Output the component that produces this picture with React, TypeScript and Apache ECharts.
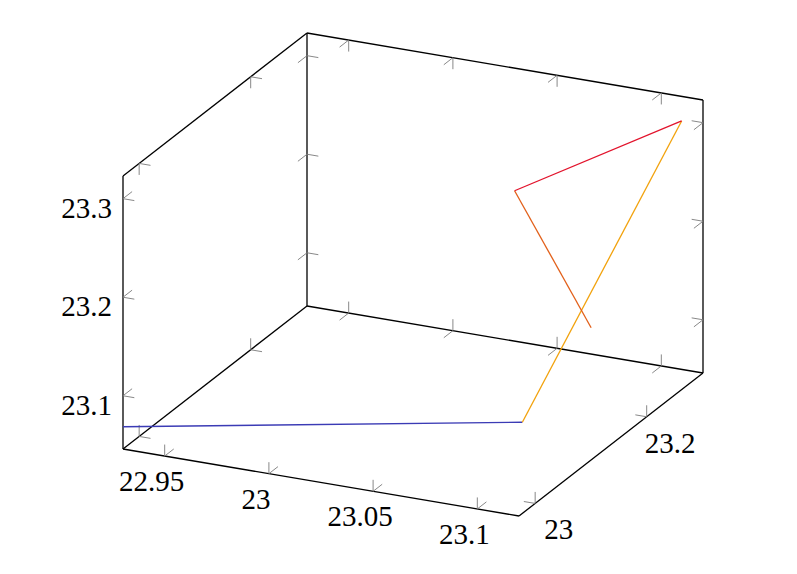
import React, { useEffect, useRef } from "react";
import * as echarts from "echarts";

// ---------- data ----------
const xTicks = [22.95, 23, 23.05, 23.1];
const yTicks = [23, 23.2];
const zTicks = [23.1, 23.2, 23.3];
const xLimits = [22.93, 23.12];
const yLimits = [22.971, 23.301];
const zLimits = [23.046, 23.323];
const xValues = [22.93, 23.12, 23.12, 23.0296, 23.0945];
const yValues = [22.971, 22.977, 23.2627, 23.301, 23.1957];
const zValues = [23.0686, 23.1385, 23.3186, 23.1986, 23.1291];

// ---------- layout & style ----------
const W = 797;
const H = 574;
const ORIGIN = [123, 449];
const EX = [396, 67];
const EY = [184, -143];
const EZ = [0, -273];
const AXES = [EX, EY, EZ];
const LIMITS = [xLimits, yLimits, zLimits];
const TICKS = [xTicks, yTicks, zTicks];
const segmentColors = ["#3b3bb5", "#f2a20c", "#e2132c", "#e2601a"];
const TICK_LEN = 11.5;
const FONT_SIZE = 29;

// edges drawn: [axis, frac of first other axis, frac of second other axis]
const EDGES = [
  [0, 0, 0], [0, 1, 0], [0, 1, 1],
  [1, 1, 0], [1, 0, 0], [1, 0, 1],
  [2, 0, 0], [2, 0, 1], [2, 1, 1],
];
// label edge index per axis and label offsets
const LABEL_EDGE = [0, 3, 6];
const LABEL_OFFSET = [[-13, 25], [23.5, 26], [-11, 9]];
const LABEL_ALIGN = ["center", "center", "right"];

function others(a: number) {
  return a === 0 ? [1, 2] : a === 1 ? [0, 2] : [0, 1];
}
function norm(v: number, lim: number[]) {
  return (v - lim[0]) / (lim[1] - lim[0]);
}
function unitPoint(f: number[]) {
  return [
    ORIGIN[0] + f[0] * EX[0] + f[1] * EY[0] + f[2] * EZ[0],
    ORIGIN[1] + f[0] * EX[1] + f[1] * EY[1] + f[2] * EZ[1],
  ];
}
function project(x: number, y: number, z: number) {
  return unitPoint([norm(x, xLimits), norm(y, yLimits), norm(z, zLimits)]);
}
function edgeFrac(edge: number[], t: number) {
  const f = [0, 0, 0];
  const [b, c] = others(edge[0]);
  f[edge[0]] = t;
  f[b] = edge[1];
  f[c] = edge[2];
  return f;
}

export default function App() {
  const ref = useRef<HTMLDivElement>(null);
  useEffect(() => {
    if (!ref.current) return;
    const chart = echarts.init(ref.current, null, { renderer: "svg" });

    const edgeData = EDGES.map((e, i) => [i, 0]);
    const tickData: number[][] = [];
    EDGES.forEach((e, i) => {
      TICKS[e[0]].forEach((v) => tickData.push([i, norm(v, LIMITS[e[0]])]));
    });
    const labelData: number[][] = [];
    TICKS.forEach((ticks, a) => ticks.forEach((v) => labelData.push([a, v])));
    const segData = xValues.slice(0, -1).map((_, i) => [i, 0]);

    const option: any = {
      animation: false,
      backgroundColor: "#fff",
      grid: { left: 0, top: 0, right: 0, bottom: 0 },
      xAxis: { type: "value", min: 0, max: W, show: false },
      yAxis: { type: "value", min: 0, max: H, inverse: true, show: false },
      series: [
        {
          type: "custom",
          name: "box",
          data: edgeData,
          renderItem: (params: any, api: any) => {
            const e = EDGES[api.value(0)];
            const p1 = api.coord(unitPoint(edgeFrac(e, 0)));
            const p2 = api.coord(unitPoint(edgeFrac(e, 1)));
            return {
              type: "line",
              shape: { x1: p1[0], y1: p1[1], x2: p2[0], y2: p2[1] },
              style: { stroke: "#000", lineWidth: 1.3 },
            };
          },
        },
        {
          type: "custom",
          name: "ticks",
          data: tickData,
          renderItem: (params: any, api: any) => {
            const e = EDGES[api.value(0)];
            const t = api.value(1);
            const p = api.coord(unitPoint(edgeFrac(e, t)));
            const [b, c] = others(e[0]);
            const children = [
              [b, e[1]],
              [c, e[2]],
            ].map(([ax, fr]) => {
              const v = AXES[ax];
              const len = Math.hypot(v[0], v[1]);
              const s = fr === 0 ? 1 : -1;
              return {
                type: "line",
                shape: {
                  x1: p[0],
                  y1: p[1],
                  x2: p[0] + (s * v[0] * TICK_LEN) / len,
                  y2: p[1] + (s * v[1] * TICK_LEN) / len,
                },
                style: { stroke: "#7a7a7a", lineWidth: 0.9 },
              };
            });
            return { type: "group", children };
          },
        },
        {
          type: "custom",
          name: "labels",
          data: labelData,
          renderItem: (params: any, api: any) => {
            const a = api.value(0);
            const v = api.value(1);
            const e = EDGES[LABEL_EDGE[a]];
            const p = api.coord(unitPoint(edgeFrac(e, norm(v, LIMITS[a]))));
            return {
              type: "text",
              x: p[0] + LABEL_OFFSET[a][0],
              y: p[1] + LABEL_OFFSET[a][1],
              style: {
                text: String(v),
                fill: "#000",
                fontSize: FONT_SIZE,
                fontFamily: "Liberation Serif",
                align: LABEL_ALIGN[a],
                verticalAlign: "middle",
              },
            };
          },
        },
        {
          type: "custom",
          name: "path",
          data: segData,
          renderItem: (params: any, api: any) => {
            const i = api.value(0);
            const p1 = api.coord(project(xValues[i], yValues[i], zValues[i]));
            const p2 = api.coord(project(xValues[i + 1], yValues[i + 1], zValues[i + 1]));
            return {
              type: "line",
              shape: { x1: p1[0], y1: p1[1], x2: p2[0], y2: p2[1] },
              style: { stroke: segmentColors[i], lineWidth: 1.3 },
            };
          },
        },
      ],
    };
    chart.setOption(option);
    return () => chart.dispose();
  }, []);
  return (
    <div
      ref={ref}
      style={{ position: "absolute", left: 0, top: 0, width: W, height: H, background: "#fff" }}
    />
  );
}
